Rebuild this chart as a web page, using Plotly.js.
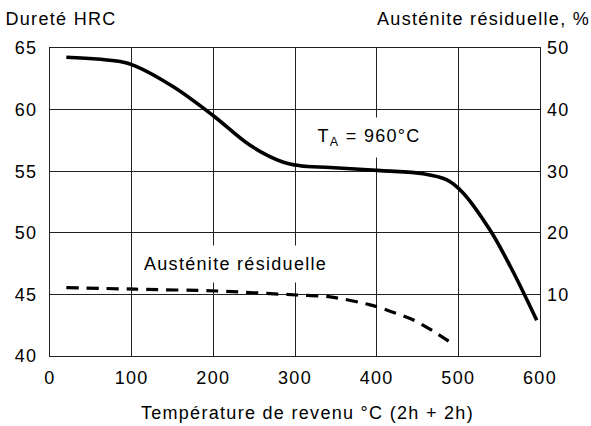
<!DOCTYPE html>
<html><head><meta charset="utf-8">
<script src="https://cdn.plot.ly/plotly-3.0.1.min.js"></script>
<style>
html,body{margin:0;padding:0;background:#fff;}
#chart{width:591px;height:426px;}
#chart text{letter-spacing:1.3px;}
</style></head><body><div id="chart"></div>
<script>
// Hardness (HRC) vs tempering temperature, left axis
const hardTemp = [20, 86, 104, 151, 200, 245, 285, 306, 343, 405, 457, 486, 505, 539, 565, 596];
const hardHRC  = [64.25, 63.9, 63.55, 61.85, 59.5, 57.1, 55.75, 55.45, 55.3, 55.05, 54.8, 54.3, 53.3, 50.2, 47.1, 42.9];
// Retained austenite (%) vs tempering temperature, right axis
const austTemp = [20, 104, 204, 302, 343, 392, 418, 445, 469, 495];
const austPct  = [11.1, 10.85, 10.55, 9.9, 9.6, 8.3, 7.2, 5.85, 4.05, 1.8];
// Tick labels
const xTicks = [0, 100, 200, 300, 400, 500, 600];
const yLeftTicks = [40, 45, 50, 55, 60, 65];
const yRightTicks = [10, 20, 30, 40, 50];

const FONT = {family: 'Liberation Sans, Arial, sans-serif', size: 18, color: '#000'};
const GRID = '#222';

const traces = [
  {x: hardTemp, y: hardHRC, type: 'scatter', mode: 'lines', yaxis: 'y',
   line: {color: '#000', width: 3.6, shape: 'spline', smoothing: 1}, hoverinfo: 'skip'},
  {x: austTemp, y: austPct, type: 'scatter', mode: 'lines', yaxis: 'y2',
   line: {color: '#000', width: 3.2, dash: '12px,8px', shape: 'spline', smoothing: 0.8}, hoverinfo: 'skip'}
];

const layout = {
  width: 591, height: 426,
  margin: {l: 50, r: 51, t: 48, b: 70, pad: 0},
  paper_bgcolor: '#fff', plot_bgcolor: '#fff',
  showlegend: false,
  font: FONT,
  xaxis: {range: [0, 600], tickvals: xTicks, ticktext: xTicks.map(String),
          showgrid: true, gridcolor: GRID, gridwidth: 1, zeroline: false,
          showline: true, mirror: true, linecolor: GRID, linewidth: 1,
          ticks: '', ticklabelstandoff: 5, tickfont: FONT, fixedrange: true},
  yaxis: {range: [40, 65], tickvals: yLeftTicks, ticktext: yLeftTicks.map(String),
          showgrid: true, gridcolor: GRID, gridwidth: 1, zeroline: false,
          showline: true, mirror: true, linecolor: GRID, linewidth: 1,
          ticks: '', ticklabelstandoff: 8, tickfont: FONT, fixedrange: true},
  yaxis2: {range: [0, 50], tickvals: yRightTicks, ticktext: yRightTicks.map(String),
           overlaying: 'y', side: 'right', showgrid: false, zeroline: false,
           showline: false, ticks: '', ticklabelstandoff: 6, tickfont: FONT, fixedrange: true},
  annotations: [
    {text: 'Dureté HRC', xref: 'paper', yref: 'paper', x: -0.0816, y: 1.094,
     xanchor: 'left', yanchor: 'middle', showarrow: false, font: FONT},
    {text: 'Austénite résiduelle, %', xref: 'paper', yref: 'paper', x: 1.075, y: 1.094,
     xanchor: 'right', yanchor: 'middle', showarrow: false, font: FONT},
    {text: 'T<sub>A</sub> = 960°C', xref: 'x', yref: 'y', x: 390, y: 57.7,
     xanchor: 'center', yanchor: 'middle', showarrow: false, font: FONT,
     bgcolor: '#fff', borderpad: 8},
    {text: 'Austénite résiduelle', xref: 'x', yref: 'y', x: 227.7, y: 47.47,
     xanchor: 'center', yanchor: 'middle', showarrow: false, font: FONT,
     bgcolor: '#fff', borderpad: 8},
    {text: 'Température de revenu °C (2h + 2h)', xref: 'paper', yref: 'paper', x: 0.5265, y: -0.185,
     xanchor: 'center', yanchor: 'middle', showarrow: false, font: FONT}
  ]
};

Plotly.newPlot('chart', traces, layout, {displayModeBar: false, staticPlot: true});
</script></body></html>
